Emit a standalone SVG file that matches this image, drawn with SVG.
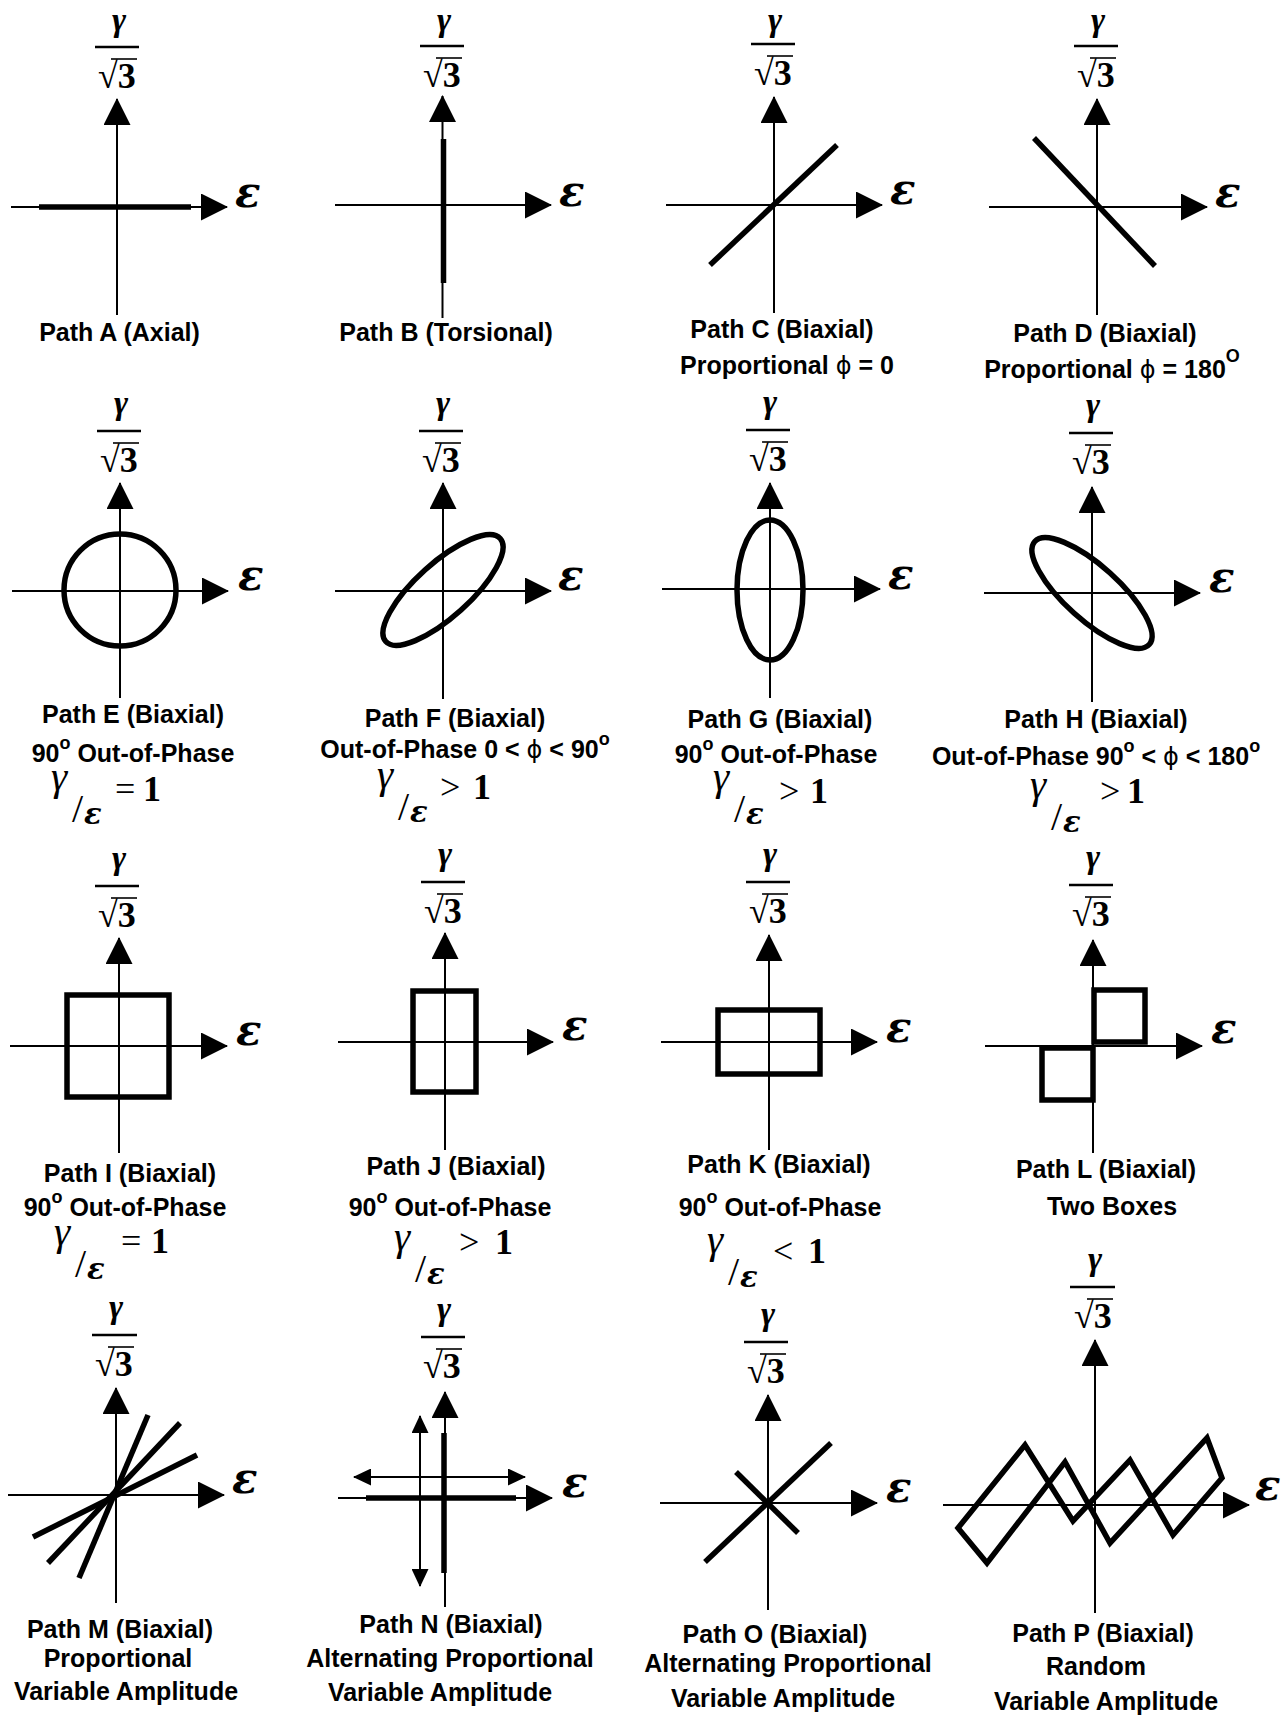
<svg xmlns="http://www.w3.org/2000/svg" width="1287" height="1717" viewBox="0 0 1287 1717">
<style>
.ax{stroke:#000;stroke-width:2;fill:none}
.ar{marker-end:url(#ah)}
.th{stroke:#000;stroke-width:5.5;fill:none}
.bar{stroke:#000;stroke-width:2.5}
.vin{stroke:#000;stroke-width:1.6}
.lbl{font-family:"Liberation Sans",Arial,sans-serif;font-weight:bold;font-size:25px;text-anchor:middle;fill:#000}
.sup{font-size:18px}
.phi{font-family:"DejaVu Sans",sans-serif;font-weight:normal;font-size:24px}
.eps{font-family:"DejaVu Serif","Liberation Serif",serif;font-weight:bold;font-style:italic;font-size:42px}
.fg{font-family:"Liberation Serif","Times New Roman",serif;font-weight:bold;font-style:italic;font-size:34px;text-anchor:middle}
.fr{font-family:"Liberation Serif","Times New Roman",serif;font-weight:bold;font-size:36px;text-anchor:middle}
.rg{font-family:"Liberation Serif","Times New Roman",serif;font-style:italic;font-size:41px}
.rs{font-family:"Liberation Serif","Times New Roman",serif;font-size:40px}
.re{font-family:"DejaVu Serif","Liberation Serif",serif;font-weight:bold;font-style:italic;font-size:29px}
.rn{font-family:"Liberation Serif","Times New Roman",serif;font-size:36px}
.rb{font-family:"Liberation Serif","Times New Roman",serif;font-weight:bold;font-size:36px}
</style>
<defs>
<marker id="ah" markerUnits="userSpaceOnUse" viewBox="0 0 27 27" markerWidth="27" markerHeight="27" refX="26" refY="13.5" orient="auto"><path d="M0,0 L27,13.5 L0,27 z" fill="#000"/></marker>
<marker id="sh" markerUnits="userSpaceOnUse" viewBox="0 0 18 17" markerWidth="18" markerHeight="17" refX="17" refY="8.5" orient="auto-start-reverse"><path d="M0,0 L18,8.5 L0,17 z" fill="#000"/></marker>
</defs>
<rect width="1287" height="1717" fill="#fff"/>

<!-- Path A -->
<g id="path-a">
<line class="ax ar" x1="117" y1="315" x2="117" y2="99"/>
<line class="ax ar" x1="11" y1="207" x2="227" y2="207"/>
<line class="th" x1="39" y1="207" x2="191" y2="207"/>
<text class="eps" x="235" y="207">ε</text>
<text class="fg" x="119" y="31">γ</text><line class="bar" x1="95" y1="47" x2="139" y2="47"/><text class="fr" x="117" y="88">√3</text><line class="vin" x1="111" y1="59" x2="137" y2="59"/>
<text class="lbl" x="119.5" y="341">Path A (Axial)</text>
</g>

<!-- Path B -->
<g id="path-b">
<line class="ax ar" x1="442.5" y1="318" x2="442.5" y2="96"/>
<line class="ax ar" x1="335" y1="205" x2="551" y2="205"/>
<line class="th" x1="443.5" y1="139" x2="443.5" y2="283"/>
<text class="eps" x="559" y="206">ε</text>
<text class="fg" x="444" y="31">γ</text><line class="bar" x1="420" y1="46" x2="464" y2="46"/><text class="fr" x="442" y="87">√3</text><line class="vin" x1="436" y1="58" x2="462" y2="58"/>
<text class="lbl" x="446" y="341">Path B (Torsional)</text>
</g>

<!-- Path C -->
<g id="path-c">
<line class="ax ar" x1="774" y1="313" x2="774" y2="97"/>
<line class="ax ar" x1="666" y1="205" x2="882" y2="205"/>
<line class="th" x1="710" y1="265" x2="837" y2="145"/>
<text class="eps" x="890" y="204">ε</text>
<text class="fg" x="775" y="31">γ</text><line class="bar" x1="751" y1="44" x2="795" y2="44"/><text class="fr" x="773" y="85">√3</text><line class="vin" x1="767" y1="56" x2="793" y2="56"/>
<text class="lbl" x="782" y="338">Path C (Biaxial)</text>
<text class="lbl" x="787" y="374">Proportional <tspan class="phi">ϕ</tspan> = 0</text>
</g>

<!-- Path D -->
<g id="path-d">
<line class="ax ar" x1="1097" y1="315" x2="1097" y2="99"/>
<line class="ax ar" x1="989" y1="207" x2="1207" y2="207"/>
<line class="th" x1="1034" y1="138" x2="1155" y2="266"/>
<text class="eps" x="1215" y="207">ε</text>
<text class="fg" x="1098" y="31">γ</text><line class="bar" x1="1074" y1="46" x2="1118" y2="46"/><text class="fr" x="1096" y="87">√3</text><line class="vin" x1="1090" y1="58" x2="1116" y2="58"/>
<text class="lbl" x="1105" y="342">Path D (Biaxial)</text>
<text class="lbl" x="1112" y="378">Proportional <tspan class="phi">ϕ</tspan> = 180<tspan class="sup" dy="-16">O</tspan></text>
</g>

<!-- Path E -->
<g id="path-e">
<line class="ax ar" x1="120" y1="698" x2="120" y2="483"/>
<line class="ax ar" x1="12" y1="591" x2="228" y2="591"/>
<circle class="th" cx="120" cy="590" r="56"/>
<text class="eps" x="238" y="590">ε</text>
<text class="fg" x="121" y="414">γ</text><line class="bar" x1="97" y1="431" x2="141" y2="431"/><text class="fr" x="119" y="472">√3</text><line class="vin" x1="113" y1="443" x2="139" y2="443"/>
<text class="lbl" x="133" y="723">Path E (Biaxial)</text>
<text class="lbl" x="133" y="762">90<tspan class="sup" dy="-13">o</tspan><tspan dy="13"> Out-of-Phase</tspan></text>
<text class="rg" x="51" y="790">γ</text><text class="rs" x="72" y="822">/</text><text class="re" x="84" y="824">ε</text><text class="rn" x="115" y="801">=</text><text class="rb" x="143" y="801">1</text>
</g>

<!-- Path F -->
<g id="path-f">
<line class="ax ar" x1="443" y1="699" x2="443" y2="483"/>
<line class="ax ar" x1="335" y1="591" x2="551" y2="591"/>
<ellipse class="th" cx="443" cy="590" rx="77" ry="27" transform="rotate(-42 443 590)"/>
<text class="eps" x="558" y="590">ε</text>
<text class="fg" x="443" y="414">γ</text><line class="bar" x1="419" y1="431" x2="463" y2="431"/><text class="fr" x="441" y="472">√3</text><line class="vin" x1="435" y1="443" x2="461" y2="443"/>
<text class="lbl" x="455" y="727">Path F (Biaxial)</text>
<text class="lbl" x="465" y="758">Out-of-Phase  0 &lt; <tspan class="phi">ϕ</tspan> &lt; 90<tspan class="sup" dy="-13">o</tspan></text>
<text class="rg" x="377" y="788">γ</text><text class="rs" x="398" y="820">/</text><text class="re" x="410" y="822">ε</text><text class="rn" x="440" y="799">&gt;</text><text class="rb" x="473" y="799">1</text>
</g>

<!-- Path G -->
<g id="path-g">
<line class="ax ar" x1="770" y1="698" x2="770" y2="483"/>
<line class="ax ar" x1="662" y1="589" x2="880" y2="589"/>
<ellipse class="th" cx="770" cy="590" rx="33" ry="70"/>
<text class="eps" x="888" y="589">ε</text>
<text class="fg" x="770" y="413">γ</text><line class="bar" x1="746" y1="430" x2="790" y2="430"/><text class="fr" x="768" y="471">√3</text><line class="vin" x1="762" y1="442" x2="788" y2="442"/>
<text class="lbl" x="780" y="728">Path G (Biaxial)</text>
<text class="lbl" x="776" y="763">90<tspan class="sup" dy="-13">o</tspan><tspan dy="13"> Out-of-Phase</tspan></text>
<text class="rg" x="713" y="790">γ</text><text class="rs" x="734" y="822">/</text><text class="re" x="746" y="824">ε</text><text class="rn" x="779" y="803">&gt;</text><text class="rb" x="810" y="803">1</text>
</g>

<!-- Path H -->
<g id="path-h">
<line class="ax ar" x1="1092" y1="702" x2="1092" y2="487"/>
<line class="ax ar" x1="984" y1="593" x2="1200" y2="593"/>
<ellipse class="th" cx="1092" cy="593" rx="77" ry="27" transform="rotate(42 1092 593)"/>
<text class="eps" x="1209" y="592">ε</text>
<text class="fg" x="1093" y="416">γ</text><line class="bar" x1="1069" y1="433" x2="1113" y2="433"/><text class="fr" x="1091" y="474">√3</text><line class="vin" x1="1085" y1="445" x2="1111" y2="445"/>
<text class="lbl" x="1096" y="728">Path H (Biaxial)</text>
<text class="lbl" x="1096" y="765">Out-of-Phase  90<tspan class="sup" dy="-13">o</tspan><tspan dy="13"> &lt; </tspan><tspan class="phi">ϕ</tspan> &lt; 180<tspan class="sup" dy="-13">o</tspan></text>
<text class="rg" x="1030" y="798">γ</text><text class="rs" x="1051" y="830">/</text><text class="re" x="1063" y="832">ε</text><text class="rn" x="1100" y="803">&gt;</text><text class="rb" x="1127" y="803">1</text>
</g>

<!-- Path I -->
<g id="path-i">
<line class="ax ar" x1="119" y1="1153" x2="119" y2="938"/>
<line class="ax ar" x1="10" y1="1046" x2="227" y2="1046"/>
<rect class="th" x="67" y="995" width="102" height="102"/>
<text class="eps" x="236" y="1045">ε</text>
<text class="fg" x="119" y="869">γ</text><line class="bar" x1="95" y1="886" x2="139" y2="886"/><text class="fr" x="117" y="927">√3</text><line class="vin" x1="111" y1="898" x2="137" y2="898"/>
<text class="lbl" x="130" y="1182">Path I (Biaxial)</text>
<text class="lbl" x="125" y="1216">90<tspan class="sup" dy="-13">o</tspan><tspan dy="13"> Out-of-Phase</tspan></text>
<text class="rg" x="54" y="1245">γ</text><text class="rs" x="75" y="1277">/</text><text class="re" x="87" y="1279">ε</text><text class="rn" x="121" y="1253">=</text><text class="rb" x="151" y="1253">1</text>
</g>

<!-- Path J -->
<g id="path-j">
<line class="ax ar" x1="445" y1="1150" x2="445" y2="933"/>
<line class="ax ar" x1="338" y1="1042" x2="553" y2="1042"/>
<rect class="th" x="413" y="991" width="63" height="101"/>
<text class="eps" x="562" y="1040">ε</text>
<text class="fg" x="445" y="865">γ</text><line class="bar" x1="421" y1="882" x2="465" y2="882"/><text class="fr" x="443" y="923">√3</text><line class="vin" x1="437" y1="894" x2="463" y2="894"/>
<text class="lbl" x="456" y="1175">Path J (Biaxial)</text>
<text class="lbl" x="450" y="1216">90<tspan class="sup" dy="-13">o</tspan><tspan dy="13"> Out-of-Phase</tspan></text>
<text class="rg" x="394" y="1250">γ</text><text class="rs" x="415" y="1282">/</text><text class="re" x="427" y="1284">ε</text><text class="rn" x="459" y="1254">&gt;</text><text class="rb" x="495" y="1254">1</text>
</g>

<!-- Path K -->
<g id="path-k">
<line class="ax ar" x1="769" y1="1150" x2="769" y2="935"/>
<line class="ax ar" x1="661" y1="1042" x2="877" y2="1042"/>
<rect class="th" x="718" y="1010" width="102" height="64"/>
<text class="eps" x="886" y="1042">ε</text>
<text class="fg" x="770" y="865">γ</text><line class="bar" x1="746" y1="882" x2="790" y2="882"/><text class="fr" x="768" y="923">√3</text><line class="vin" x1="762" y1="894" x2="788" y2="894"/>
<text class="lbl" x="779" y="1173">Path K (Biaxial)</text>
<text class="lbl" x="780" y="1216">90<tspan class="sup" dy="-13">o</tspan><tspan dy="13"> Out-of-Phase</tspan></text>
<text class="rg" x="707" y="1253">γ</text><text class="rs" x="728" y="1285">/</text><text class="re" x="740" y="1287">ε</text><text class="rn" x="773" y="1263">&lt;</text><text class="rb" x="808" y="1263">1</text>
</g>

<!-- Path L -->
<g id="path-l">
<line class="ax ar" x1="1093" y1="1153" x2="1093" y2="940"/>
<line class="ax ar" x1="985" y1="1046" x2="1202" y2="1046"/>
<rect class="th" x="1094" y="990" width="51" height="52"/>
<rect class="th" x="1042" y="1048" width="51" height="52"/>
<text class="eps" x="1211" y="1043">ε</text>
<text class="fg" x="1093" y="868">γ</text><line class="bar" x1="1069" y1="885" x2="1113" y2="885"/><text class="fr" x="1091" y="926">√3</text><line class="vin" x1="1085" y1="897" x2="1111" y2="897"/>
<text class="lbl" x="1106" y="1178">Path L (Biaxial)</text>
<text class="lbl" x="1112" y="1215">Two Boxes</text>
</g>

<!-- Path M -->
<g id="path-m">
<line class="ax ar" x1="116" y1="1603" x2="116" y2="1388"/>
<line class="ax ar" x1="8" y1="1495" x2="224" y2="1495"/>
<line class="th" x1="148" y1="1415" x2="79" y2="1578"/>
<line class="th" x1="180" y1="1423" x2="48" y2="1563"/>
<line class="th" x1="197" y1="1455" x2="33" y2="1537"/>
<text class="eps" x="232" y="1493">ε</text>
<text class="fg" x="116" y="1318">γ</text><line class="bar" x1="92" y1="1335" x2="137" y2="1335"/><text class="fr" x="114" y="1376">√3</text><line class="vin" x1="108" y1="1347" x2="134" y2="1347"/>
<text class="lbl" x="120" y="1638">Path M (Biaxial)</text>
<text class="lbl" x="118" y="1667">Proportional</text>
<text class="lbl" x="126" y="1700">Variable Amplitude</text>
</g>

<!-- Path N -->
<g id="path-n">
<line class="ax ar" x1="445" y1="1607" x2="445" y2="1392"/>
<line class="ax ar" x1="338" y1="1498" x2="552" y2="1498"/>
<line class="th" x1="366" y1="1498" x2="516" y2="1498"/>
<line class="th" x1="444" y1="1433" x2="444" y2="1573"/>
<line class="ax" x1="420" y1="1416" x2="420" y2="1586" marker-start="url(#sh)" marker-end="url(#sh)"/>
<line class="ax" x1="354" y1="1477" x2="525" y2="1477" marker-start="url(#sh)" marker-end="url(#sh)"/>
<text class="eps" x="562" y="1497">ε</text>
<text class="fg" x="444" y="1320">γ</text><line class="bar" x1="421" y1="1337" x2="465" y2="1337"/><text class="fr" x="442" y="1378">√3</text><line class="vin" x1="436" y1="1349" x2="462" y2="1349"/>
<text class="lbl" x="451" y="1633">Path N (Biaxial)</text>
<text class="lbl" x="450" y="1667">Alternating Proportional</text>
<text class="lbl" x="440" y="1701">Variable Amplitude</text>
</g>

<!-- Path O -->
<g id="path-o">
<line class="ax ar" x1="768" y1="1610" x2="768" y2="1395"/>
<line class="ax ar" x1="660" y1="1503" x2="877" y2="1503"/>
<line class="th" x1="705" y1="1562" x2="831" y2="1443"/>
<line class="th" x1="736" y1="1472" x2="798" y2="1533"/>
<text class="eps" x="886" y="1502">ε</text>
<text class="fg" x="768" y="1325">γ</text><line class="bar" x1="744" y1="1342" x2="788" y2="1342"/><text class="fr" x="766" y="1383">√3</text><line class="vin" x1="760" y1="1354" x2="786" y2="1354"/>
<text class="lbl" x="775" y="1643">Path O (Biaxial)</text>
<text class="lbl" x="788" y="1672">Alternating Proportional</text>
<text class="lbl" x="783" y="1707">Variable Amplitude</text>
</g>

<!-- Path P -->
<g id="path-p">
<line class="ax ar" x1="1095" y1="1613" x2="1095" y2="1340"/>
<line class="ax ar" x1="943" y1="1505" x2="1249" y2="1505"/>
<polygon class="th" stroke-linejoin="miter" points="958,1528 1025,1445 1073,1521 1130,1460 1173,1535 1222,1478 1207,1438 1110,1543 1065,1462 987,1563"/>
<text class="eps" x="1255" y="1500">ε</text>
<text class="fg" x="1095" y="1270">γ</text><line class="bar" x1="1070" y1="1287" x2="1115" y2="1287"/><text class="fr" x="1093" y="1328">√3</text><line class="vin" x1="1087" y1="1299" x2="1113" y2="1299"/>
<text class="lbl" x="1103" y="1642">Path P (Biaxial)</text>
<text class="lbl" x="1096" y="1675">Random</text>
<text class="lbl" x="1106" y="1710">Variable Amplitude</text>
</g>
</svg>
